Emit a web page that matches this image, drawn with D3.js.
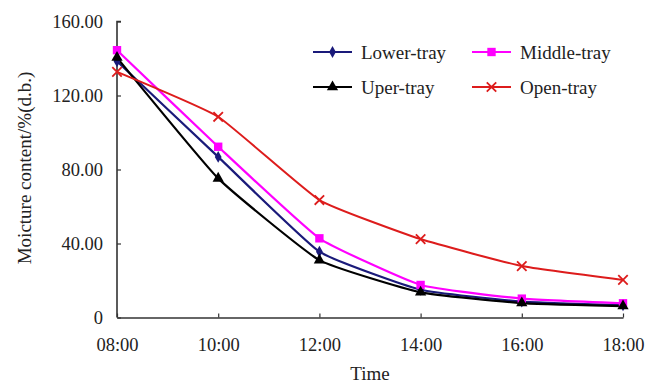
<!DOCTYPE html>
<html>
<head>
<meta charset="utf-8">
<script src="https://cdn.jsdelivr.net/npm/d3@7"></script>
<style>
  body { margin: 0; background: #fff; }
  text { font-family: "Liberation Serif", "Times New Roman", serif; fill: #222; }
</style>
</head>
<body>
<div id="chart"></div>
<script>
// chart data
const times = ["08:00", "10:00", "12:00", "14:00", "16:00", "18:00"];
const lowerTray = [138.5, 86.8, 35.6, 15.0, 8.6, 6.6];
const middleTray = [144.5, 92.3, 42.8, 17.6, 10.2, 7.7];
const uperTray = [140.5, 75.2, 31.0, 13.6, 7.8, 6.2];
const openTray = [132.8, 108.5, 63.5, 42.4, 27.8, 20.3];
const yTicks = [0, 40, 80, 120, 160];

const width = 646, height = 385;
const margin = { top: 21.5, right: 23, bottom: 67.5, left: 117 };

const series = [
  { name: "Lower-tray", values: lowerTray, color: "#1a1a7a", symbol: d3.symbolDiamond, size: 40 },
  { name: "Middle-tray", values: middleTray, color: "#ff00ff", symbol: d3.symbolSquare, size: 70 },
  { name: "Uper-tray", values: uperTray, color: "#000000", symbol: d3.symbolTriangle, size: 55 },
  { name: "Open-tray", values: openTray, color: "#dd1c1c", symbol: d3.symbolX, size: 60 }
];

const svg = d3.select("#chart").append("svg")
  .attr("width", width)
  .attr("height", height);

const x = d3.scalePoint()
  .domain(times)
  .range([margin.left, width - margin.right]);

const y = d3.scaleLinear()
  .domain([0, 160])
  .range([height - margin.bottom, margin.top]);

// axes
const axisColor = "#333";
const xAxis = svg.append("g")
  .attr("transform", `translate(0,${height - margin.bottom})`)
  .call(d3.axisBottom(x).tickSize(-4).tickPadding(20).tickSizeOuter(0));

const yAxis = svg.append("g")
  .attr("transform", `translate(${margin.left},0)`)
  .call(d3.axisLeft(y).tickValues(yTicks).tickSize(-4).tickPadding(14).tickSizeOuter(0)
    .tickFormat(d => d === 0 ? "0" : d3.format(".2f")(d)));

[xAxis, yAxis].forEach(g => {
  g.select(".domain").attr("stroke", axisColor).attr("stroke-width", 1.6);
  g.selectAll(".tick line").attr("stroke", axisColor).attr("stroke-width", 1.2);
  g.selectAll(".tick text")
    .style("font-family", "'Liberation Serif', serif")
    .style("font-size", "18.5px")
    .attr("fill", "#222");
});
yAxis.select(".domain").attr("d", `M0,${y(0)}V${y(160)}H4`);

// lines, lightly smoothed like the original
const line = d3.line()
  .x((d, i) => x(times[i]))
  .y(d => y(d))
  .curve(d3.curveCardinal.tension(0.6));

series.forEach(s => {
  svg.append("path")
    .datum(s.values)
    .attr("fill", "none")
    .attr("stroke", s.color)
    .attr("stroke-width", s.name === "Open-tray" ? 2 : 2.2)
    .attr("d", line);
});

series.forEach(s => {
  svg.append("g").selectAll("path")
    .data(s.values)
    .join("path")
    .attr("transform", (d, i) => `translate(${x(times[i])},${y(d)})`)
    .attr("d", d3.symbol().type(s.symbol).size(s.size))
    .attr("fill", s.symbol === d3.symbolX ? "none" : s.color)
    .attr("stroke", s.symbol === d3.symbolX ? s.color : "none")
    .attr("stroke-width", 1.8);
});

// legend
const legendPos = [[313, 52], [472, 52], [313, 87], [472, 87]];
series.forEach((s, i) => {
  const [lx, ly] = legendPos[i];
  const g = svg.append("g").attr("transform", `translate(${lx},${ly})`);
  g.append("line")
    .attr("x1", 0).attr("x2", 39)
    .attr("stroke", s.color).attr("stroke-width", 2);
  g.append("path")
    .attr("transform", "translate(19.5,0)")
    .attr("d", d3.symbol().type(s.symbol).size(s.size))
    .attr("fill", s.symbol === d3.symbolX ? "none" : s.color)
    .attr("stroke", s.symbol === d3.symbolX ? s.color : "none")
    .attr("stroke-width", 1.8);
  g.append("text")
    .attr("x", 48)
    .attr("dy", "0.35em")
    .style("font-size", "19px")
    .text(s.name);
});

// axis titles
svg.append("text")
  .attr("x", 370)
  .attr("y", 380)
  .attr("text-anchor", "middle")
  .style("font-size", "19px")
  .text("Time");

svg.append("text")
  .attr("transform", `translate(24,168) rotate(-90)`)
  .attr("text-anchor", "middle")
  .attr("dy", "0.35em")
  .style("font-size", "19px")
  .text("Moicture content/%(d.b.)");
</script>
</body>
</html>
